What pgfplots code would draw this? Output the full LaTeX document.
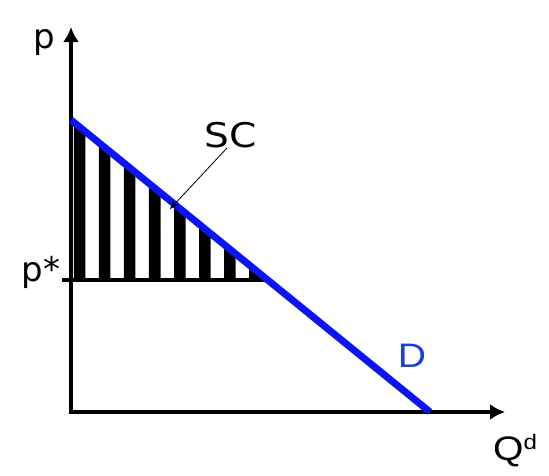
\documentclass[border=0pt]{standalone}
\usepackage{fontspec}
\setmainfont{DejaVu Sans}
\newfontfamily\arial{Liberation Sans}
\usepackage{pgfplots}
\pgfplotsset{compat=1.18}
\usetikzlibrary{arrows.meta}
\definecolor{dblue}{RGB}{25,65,215}
\definecolor{lblue}{RGB}{10,20,245}
\newcommand{\wide}[1]{\scalebox{1.15}[1]{#1}}
\begin{document}
\begin{tikzpicture}
\path[use as bounding box] (-71pt,-63pt) rectangle (478pt,412pt);
\begin{axis}[
  scale only axis, width=434pt, height=385pt,
  xmin=0, xmax=434, ymin=0, ymax=385,
  axis lines=left,
  axis line style={line width=4.2pt, line cap=rect, -{Latex[length=15pt,width=16pt]}},
  xtick=\empty, ytick={132}, yticklabels={},
  ytick style={line width=3.5pt, black},
  tick align=outside, major tick length=9pt,
  clip=false,
]
% hatch stripes of the consumer surplus triangle
\addplot[fill=black, draw=none] coordinates {(3,132) (3,289.6) (14.5,280.2) (14.5,132)} -- cycle;
\addplot[fill=black, draw=none] coordinates {(28,132) (28,269.2) (39.5,259.9) (39.5,132)} -- cycle;
\addplot[fill=black, draw=none] coordinates {(53,132) (53,248.9) (64.5,239.5) (64.5,132)} -- cycle;
\addplot[fill=black, draw=none] coordinates {(78,132) (78,228.6) (89.5,219.2) (89.5,132)} -- cycle;
\addplot[fill=black, draw=none] coordinates {(103,132) (103,208.2) (114.5,198.9) (114.5,132)} -- cycle;
\addplot[fill=black, draw=none] coordinates {(128,132) (128,187.9) (139.5,178.5) (139.5,132)} -- cycle;
\addplot[fill=black, draw=none] coordinates {(153,132) (153,167.5) (164.5,158.2) (164.5,132)} -- cycle;
\addplot[fill=black, draw=none] coordinates {(178,132) (178,147.2) (189.5,137.9) (189.5,132)} -- cycle;
% p* line
\addplot[black, line width=3.2pt] coordinates {(0,132) (198,132)};
% demand
\addplot[lblue, line width=7pt] coordinates {(0,292) (359,0)};
% SC arrow
\addplot[black, line width=0.8pt, -{Stealth[length=9pt,width=7pt]}] coordinates {(156,264) (99,203)};
\node[anchor=base, font=\fontsize{34}{34}\selectfont] at (axis cs:-27,363) {p};
\node[anchor=base, font=\fontsize{34}{34}\selectfont] at (axis cs:-30,131) {p*};
\node[anchor=base, font=\fontsize{34}{34}\selectfont] at (axis cs:160,265) {\wide{SC}};
\node[anchor=base, text=dblue, font=\arial\fontsize{34}{34}\selectfont] at (axis cs:341,45) {\wide{D}};
\node[anchor=base west, inner sep=0pt, font=\arial\fontsize{34}{34}\selectfont] at (axis cs:422,-48) {\wide{Q{\fontsize{21}{21}\selectfont\raisebox{11pt}{d}}}};
\end{axis}
\end{tikzpicture}
\end{document}
